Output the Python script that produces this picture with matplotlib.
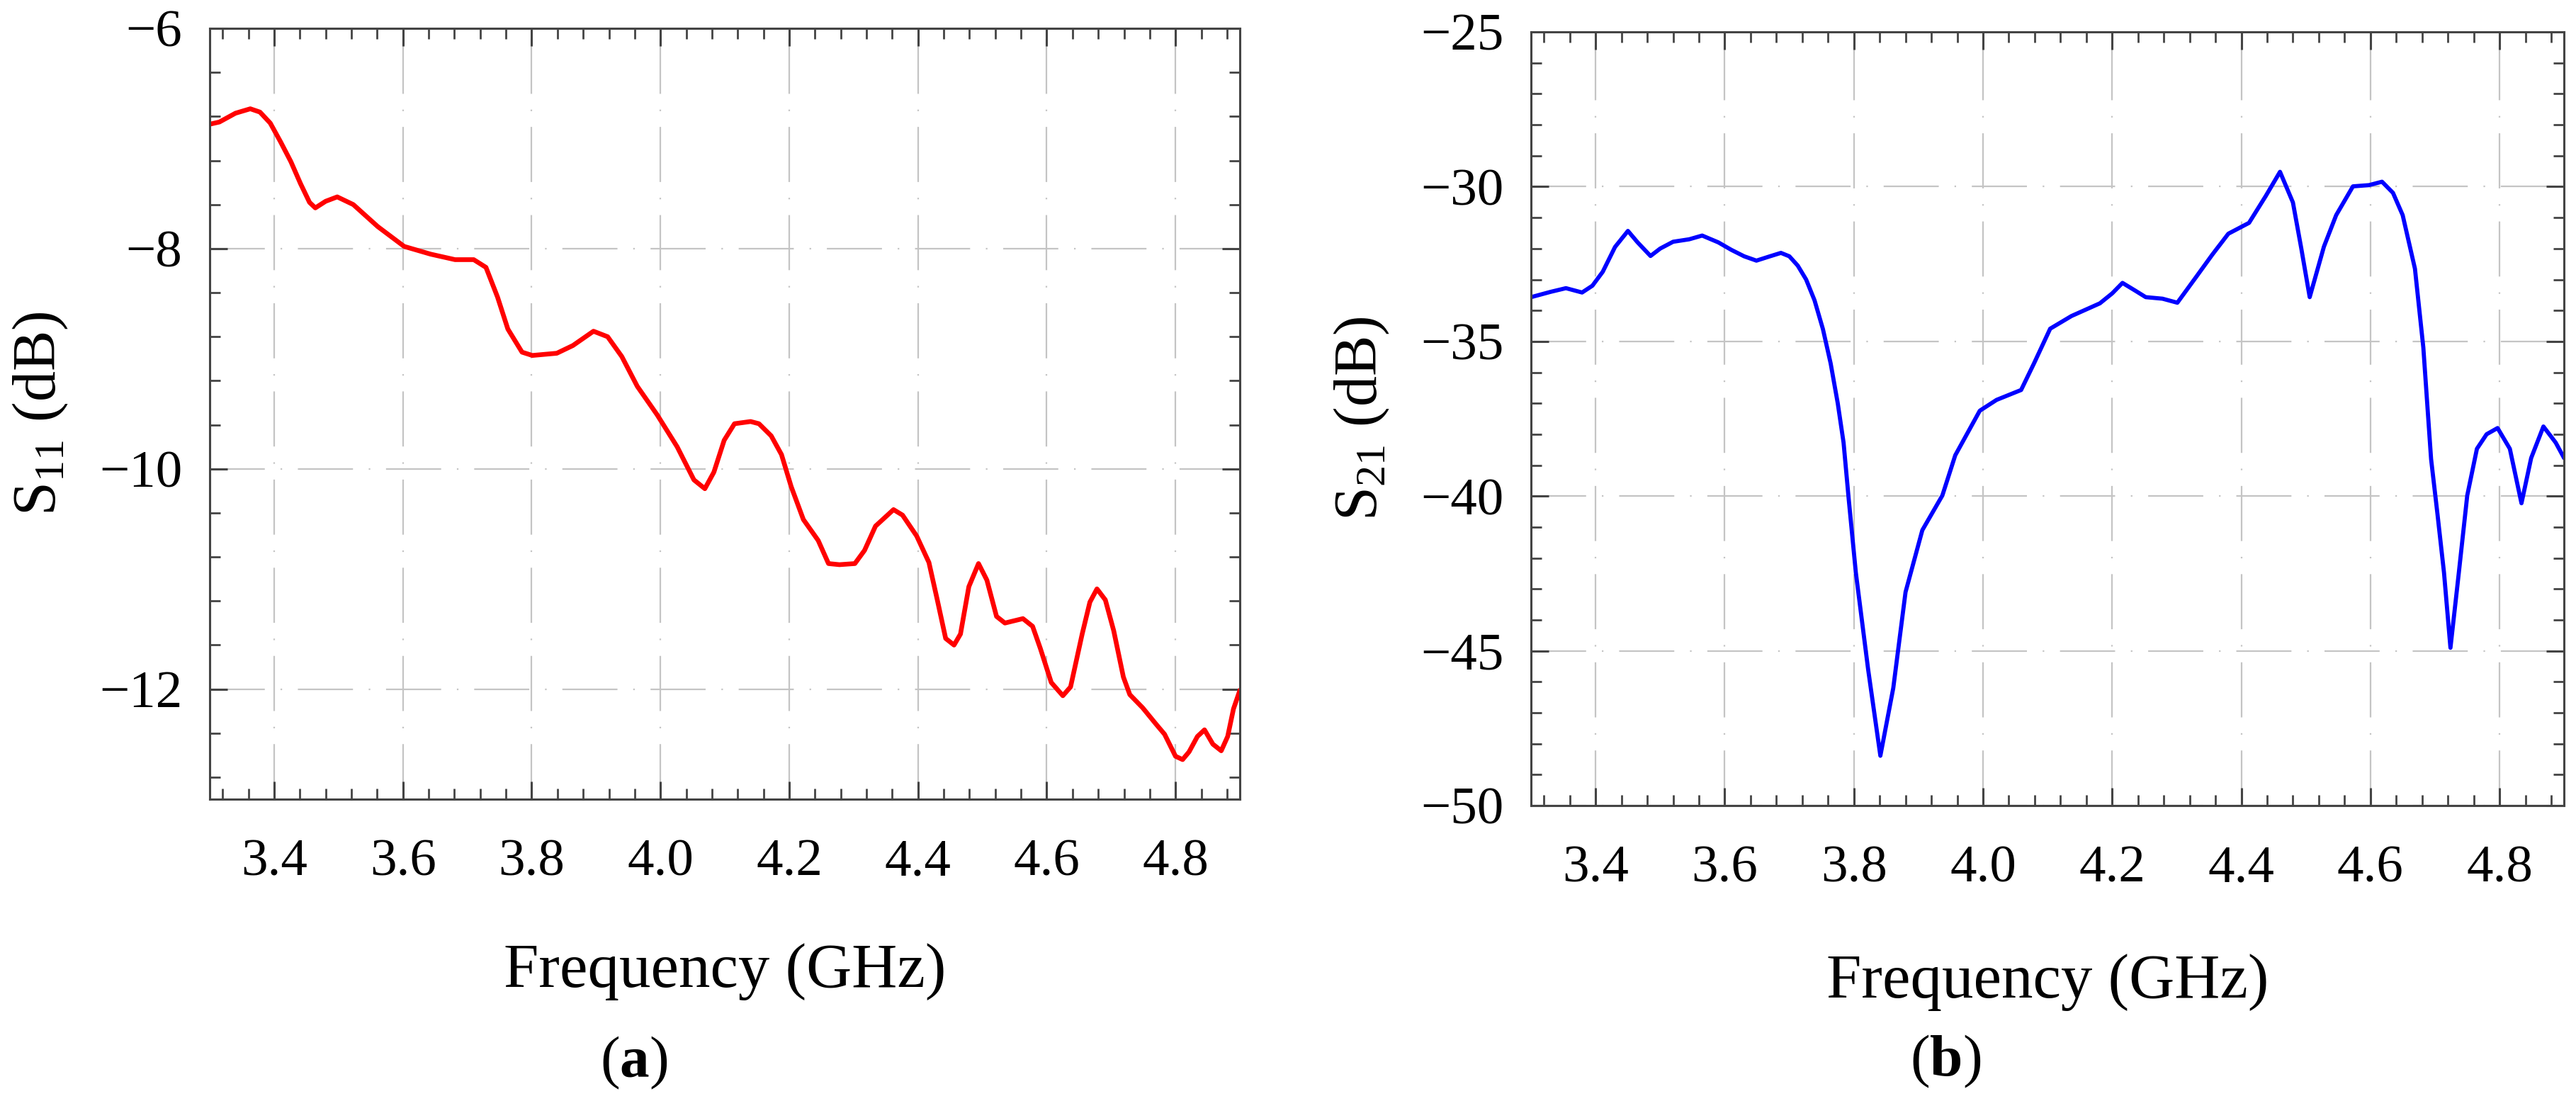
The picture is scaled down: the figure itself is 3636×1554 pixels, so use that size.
import matplotlib
matplotlib.use("Agg")
import matplotlib.pyplot as plt
from matplotlib.ticker import MultipleLocator, FormatStrFormatter

plt.rcParams['font.family'] = ['Liberation Serif', 'DejaVu Serif']
plt.rcParams['mathtext.fontset'] = 'custom'
plt.rcParams['mathtext.rm'] = 'Liberation Serif'
plt.rcParams['mathtext.bf'] = 'Liberation Serif:bold'

# S11 curve (panel a)
freq_a = [3.300, 3.315, 3.340, 3.363, 3.378, 3.394, 3.410, 3.426, 3.441, 3.455,
          3.464, 3.480, 3.498, 3.523, 3.561, 3.602, 3.643, 3.681, 3.710, 3.729,
          3.747, 3.763, 3.785, 3.801, 3.839, 3.864, 3.896, 3.918, 3.940, 3.964,
          3.995, 4.026, 4.052, 4.069, 4.083, 4.099, 4.115, 4.140, 4.153, 4.172,
          4.188, 4.203, 4.222, 4.245, 4.261, 4.278, 4.302, 4.317, 4.334, 4.362,
          4.376, 4.398, 4.417, 4.430, 4.443, 4.456, 4.466, 4.479, 4.494, 4.507,
          4.522, 4.535, 4.563, 4.578, 4.590, 4.607, 4.625, 4.637, 4.655, 4.667,
          4.678, 4.691, 4.704, 4.719, 4.729, 4.749, 4.770, 4.783, 4.800, 4.811,
          4.821, 4.834, 4.845, 4.858, 4.871, 4.881, 4.890, 4.900]
s11 = [-6.87, -6.85, -6.77, -6.73, -6.76, -6.86, -7.03, -7.21, -7.41, -7.58,
       -7.63, -7.57, -7.53, -7.60, -7.80, -7.98, -8.05, -8.10, -8.10, -8.17,
       -8.44, -8.73, -8.94, -8.97, -8.95, -8.88, -8.75, -8.80, -8.98, -9.25,
       -9.51, -9.80, -10.10, -10.18, -10.03, -9.74, -9.59, -9.57, -9.59, -9.70,
       -9.87, -10.16, -10.46, -10.65, -10.86, -10.87, -10.86, -10.74, -10.52, -10.37,
       -10.42, -10.61, -10.85, -11.19, -11.54, -11.60, -11.50, -11.07, -10.86, -11.01,
       -11.34, -11.40, -11.36, -11.43, -11.63, -11.94, -12.06, -11.98, -11.50, -11.21,
       -11.09, -11.19, -11.47, -11.89, -12.05, -12.17, -12.32, -12.41, -12.61, -12.64,
       -12.57, -12.43, -12.37, -12.50, -12.56, -12.43, -12.18, -12.01]

# S21 curve (panel b)
freq_b = [3.300, 3.330, 3.354, 3.379, 3.395, 3.411, 3.430, 3.450, 3.465, 3.485,
          3.500, 3.520, 3.545, 3.565, 3.590, 3.610, 3.630, 3.649, 3.670, 3.687,
          3.700, 3.713, 3.726, 3.739, 3.752, 3.764, 3.775, 3.784, 3.792, 3.803,
          3.822, 3.841, 3.861, 3.880, 3.906, 3.937, 3.957, 3.995, 4.021, 4.059,
          4.079, 4.104, 4.137, 4.181, 4.200, 4.216, 4.235, 4.252, 4.278, 4.301,
          4.329, 4.355, 4.380, 4.412, 4.438, 4.460, 4.480, 4.493, 4.506, 4.528,
          4.547, 4.573, 4.598, 4.618, 4.635, 4.650, 4.669, 4.682, 4.694, 4.704,
          4.714, 4.724, 4.737, 4.750, 4.765, 4.780, 4.797, 4.816, 4.834, 4.849,
          4.868, 4.887, 4.900]
s21 = [-33.57, -33.40, -33.28, -33.42, -33.20, -32.75, -31.95, -31.43, -31.80, -32.24,
       -32.00, -31.78, -31.70, -31.58, -31.80, -32.04, -32.25, -32.39, -32.25, -32.14,
       -32.25, -32.55, -33.00, -33.67, -34.60, -35.71, -37.00, -38.27, -40.10, -42.47,
       -45.59, -48.39, -46.20, -43.10, -41.10, -39.98, -38.68, -37.24, -36.89, -36.57,
       -35.71, -34.59, -34.18, -33.77, -33.45, -33.11, -33.35, -33.57, -33.62, -33.75,
       -32.95, -32.20, -31.52, -31.17, -30.30, -29.52, -30.51, -32.00, -33.57, -31.94,
       -30.92, -29.99, -29.95, -29.84, -30.20, -30.92, -32.65, -35.20, -38.80, -40.60,
       -42.47, -44.90, -42.47, -39.98, -38.47, -38.00, -37.80, -38.47, -40.23, -38.77,
       -37.75, -38.27, -38.77]

fig = plt.figure(figsize=(36.37, 15.54), dpi=100)
ax1 = fig.add_axes([0.0814, 0.2741, 0.3998, 0.7001])
ax2 = fig.add_axes([0.5942, 0.2683, 0.4009, 0.7027])

grid_style = (0, (35, 10, 1, 10))

def style_axes(ax, ymajor, yminor):
    ax.set_xlim(3.3, 4.9)
    ax.xaxis.set_major_locator(MultipleLocator(0.2))
    ax.xaxis.set_minor_locator(MultipleLocator(0.04))
    ax.xaxis.set_major_formatter(FormatStrFormatter('%.1f'))
    ax.yaxis.set_major_locator(MultipleLocator(ymajor))
    ax.yaxis.set_minor_locator(MultipleLocator(yminor))
    ax.tick_params(which='both', direction='in', top=True, right=True,
                   color='#444444', labelsize=54)
    ax.tick_params(which='major', length=18, width=2.2)
    ax.tick_params(which='minor', length=11, width=2.0)
    ax.tick_params(axis='x', pad=40)
    ax.tick_params(axis='y', pad=28)
    for sp in ax.spines.values():
        sp.set_color('#444444')
        sp.set_linewidth(2.2)
    ax.grid(True, which='major', color='#c4c4c4', linewidth=1.6, linestyle=grid_style)
    ax.set_axisbelow(True)
    ax.set_xlabel('Frequency (GHz)', fontsize=64, va='center')
    ax.xaxis.set_label_coords(0.5, -0.224)


ax1.plot(freq_a, s11, color='#ff0000', linewidth=4.8,
         solid_joinstyle='round', solid_capstyle='round')
ax1.set_ylim(-13, -6)
style_axes(ax1, 2, 0.4)
ax1.set_ylabel(r'$\mathregular{S_{11}}$ (dB)', fontsize=62, va='center')
ax1.yaxis.set_label_coords(-0.164, 0.5)

ax2.plot(freq_b, s21, color='#0000ff', linewidth=4.2,
         solid_joinstyle='round', solid_capstyle='round')
ax2.set_ylim(-50, -25)
style_axes(ax2, 5, 1)
ax2.set_ylabel(r'$\mathregular{S_{21}}$ (dB)', fontsize=62, va='center')
ax2.yaxis.set_label_coords(-0.164, 0.5)
ax2.xaxis.set_label_coords(0.5, -0.228)

fig.text(895 / 3637, 1 - 1500 / 1554, r'($\mathbf{a}$)', fontsize=60, ha='center', va='center')
fig.text(2746 / 3637, 1 - 1498 / 1554, r'($\mathbf{b}$)', fontsize=60, ha='center', va='center')

fig.savefig('out.png', dpi=100)
